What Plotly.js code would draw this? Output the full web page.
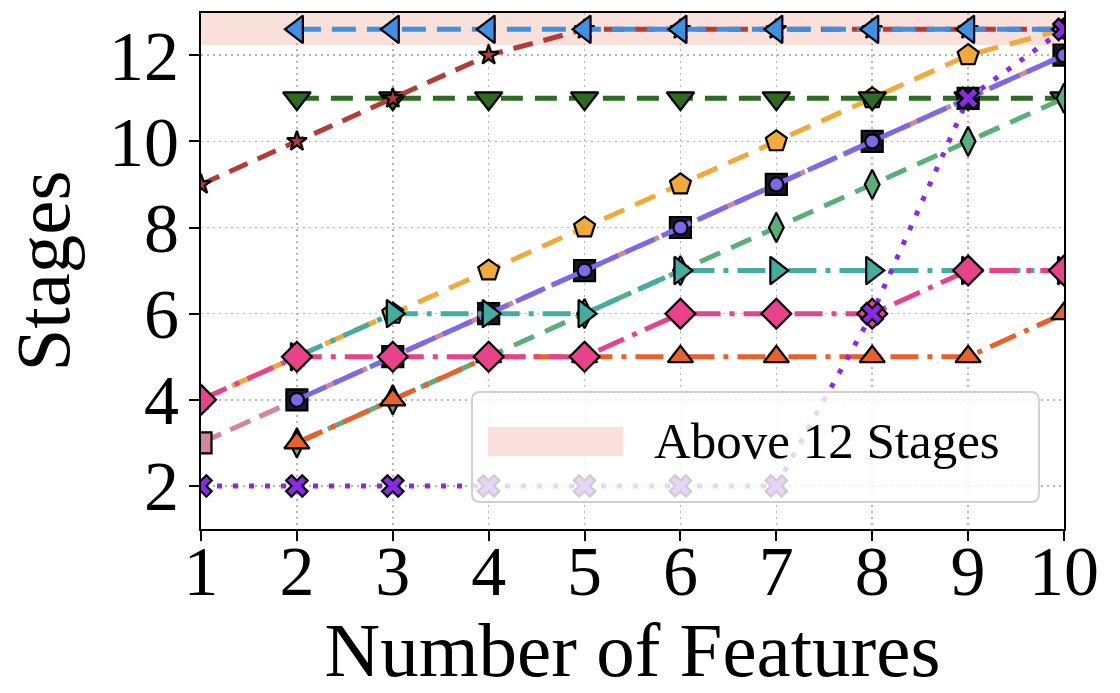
<!DOCTYPE html>
<html>
<head>
<meta charset="utf-8">
<script src="https://cdn.plot.ly/plotly-3.0.1.min.js"></script>
<style>html,body{margin:0;padding:0;background:#fff;}#chart{width:1120px;height:693px;}</style>
</head>
<body>
<div id="chart"></div>
<script>
// Number of features
const features = [1, 2, 3, 4, 5, 6, 7, 8, 9, 10];
// Stages per series (12.6 = "above 12 stages" band)
const seriesOrange   = [4, 5, 6, 7, 8, 9, 10, 11, 12, 12.6];
const seriesDkGreen  = [null, 11, 11, 11, 11, 11, 11, 11, 11, 11];
const seriesBrown    = [9, 10, 11, 12, 12.6, 12.6, 12.6, 12.6, 12.6, 12.6];
const seriesBlue     = [null, 12.6, 12.6, 12.6, 12.6, 12.6, 12.6, 12.6, 12.6, 12.6];
const seriesMauve    = [3, 4, 5, 6, 7, 8, 9, 10, 11, 12];
const seriesPurple   = [null, 4, 5, 6, 7, 8, 9, 10, 11, 12];
const seriesGreen    = [null, 3, 4, 5, 6, 7, 8, 9, 10, 11];
const seriesTeal     = [null, 5, 6, 6, 6, 7, 7, 7, 7, 7];
const seriesRedOr    = [null, 3, 4, 5, 5, 5, 5, 5, 5, 6];
const seriesPink     = [4, 5, 5, 5, 5, 6, 6, 6, 7, 7];
const seriesViolet   = [2, 2, 2, 2, 2, 2, 2, 6, 11, 12.6];
const xTicks = [1, 2, 3, 4, 5, 6, 7, 8, 9, 10];
const yTicks = [2, 4, 6, 8, 10, 12];
const bandLow = 12.23, bandHigh = 13;
const legendLabel = "Above 12 Stages";

function tr(y, color, dash, symbol, size, mcolor, width) {
  return {
    x: features, y: y, type: 'scatter', mode: 'lines+markers',
    line: {color: color, width: width || 5, dash: dash},
    marker: {symbol: symbol, size: size, color: mcolor || color, line: {color: '#000', width: 2.2}},
    connectgaps: false, showlegend: false, hoverinfo: 'skip'
  };
}
const mauveMarkerColors = features.map((f, i) => i === 0 ? '#cf8799' : '#1d1630');

const traces = [
  tr(seriesOrange, '#f0aa3c', '22px,12px', 'pentagon', 22),
  tr(seriesDkGreen, '#2f6a22', '22px,12px', 'triangle-down', 24),
  tr(seriesBrown, '#b23c3a', '20px,11px', 'star', 15),
  tr(seriesBlue, '#3f8fe2', '24px,11px', 'triangle-left', 24),
  tr(seriesMauve, '#cf8799', '22px,10px', 'square', 21, mauveMarkerColors),
  tr(seriesPurple, '#7b69ea', '32px,8px', 'circle', 14),
  tr(seriesGreen, '#5aae7a', '22px,12px', 'diamond-tall', 21),
  tr(seriesTeal, '#44aca0', '28px,9px,5px,9px', 'triangle-right', 24),
  tr(seriesRedOr, '#e8602c', '28px,9px,5px,9px', 'triangle-up', 22),
  tr(seriesPink, '#e8428b', '28px,9px,5px,9px', 'diamond', 23),
  tr(seriesViolet, '#8a2be2', '5px,11px', 'x', 19)
];

// legend box geometry in paper coords
const bx0 = 0.314, bx1 = 0.971, by0 = 0.0523, by1 = 0.2655, rx = 0.0093, ry = 0.0155;
const boxPath = `M${bx0+rx},${by0} L${bx1-rx},${by0} Q${bx1},${by0} ${bx1},${by0+ry} L${bx1},${by1-ry} Q${bx1},${by1} ${bx1-rx},${by1} L${bx0+rx},${by1} Q${bx0},${by1} ${bx0},${by1-ry} L${bx0},${by0+ry} Q${bx0},${by0} ${bx0+rx},${by0} Z`;

const layout = {
  width: 1120, height: 693,
  margin: {l: 201, r: 56, t: 13, b: 164},
  paper_bgcolor: '#fff', plot_bgcolor: '#fff',
  font: {family: '"Liberation Serif", "Times New Roman", serif', color: '#000'},
  showlegend: false,
  xaxis: {
    range: [1, 10], tickvals: xTicks, ticktext: xTicks.map(String),
    showline: true, linecolor: '#000', linewidth: 2, mirror: true,
    ticks: 'outside', ticklen: 10, tickwidth: 2, tickcolor: '#000',
    tickfont: {size: 70, family: '"Liberation Serif", serif'},
    ticklabelstandoff: -30,
    showgrid: true, gridcolor: '#b5b5b5', gridwidth: 1.5, griddash: '2px,4px',
    zeroline: false,
    title: {text: 'Number of Features', font: {size: 77, family: '"Liberation Serif", serif'}, standoff: 17}
  },
  yaxis: {
    range: [1, 12.98], tickvals: yTicks, ticktext: yTicks.map(String),
    showline: true, linecolor: '#000', linewidth: 2, mirror: true,
    ticks: 'outside', ticklen: 10, tickwidth: 2, tickcolor: '#000',
    tickfont: {size: 70, family: '"Liberation Serif", serif'},
    ticklabelstandoff: -4,
    showgrid: true, gridcolor: '#b5b5b5', gridwidth: 1.5, griddash: '2px,4px',
    zeroline: false,
    title: {text: 'Stages', font: {size: 77, family: '"Liberation Serif", serif'}, standoff: 14}
  },
  shapes: [
    {type: 'rect', xref: 'paper', yref: 'y', x0: 0, x1: 1, y0: bandLow, y1: bandHigh,
     fillcolor: '#f9e0db', line: {width: 0}, layer: 'between'},
    {type: 'path', xref: 'paper', yref: 'paper', path: boxPath,
     fillcolor: 'rgba(255,255,255,0.8)', line: {color: '#d0d0d0', width: 2}, layer: 'above'},
    {type: 'rect', xref: 'paper', yref: 'paper', x0: 0.3326, x1: 0.489, y0: 0.1415, y1: 0.1977,
     fillcolor: '#f9e0db', line: {width: 0}, layer: 'above'}
  ],
  annotations: [
    {xref: 'paper', yref: 'paper', x: 0.5226, y: 0.1696, xanchor: 'left', yanchor: 'middle',
     text: legendLabel, showarrow: false, font: {size: 51, family: '"Liberation Serif", serif', color: '#000'}}
  ]
};

Plotly.newPlot('chart', traces, layout, {staticPlot: true, displayModeBar: false});
</script>
</body>
</html>
